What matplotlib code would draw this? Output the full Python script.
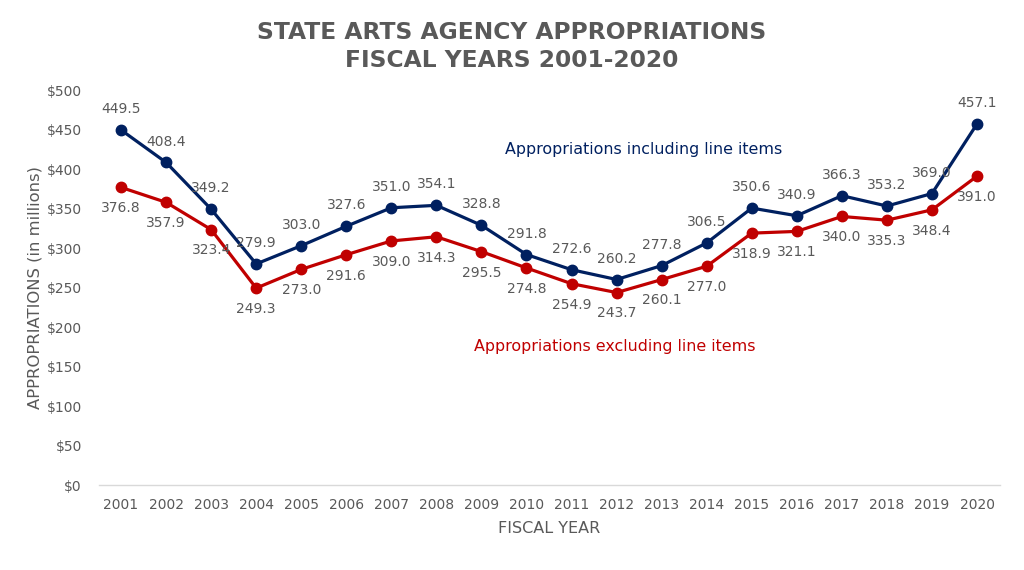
import matplotlib
matplotlib.use("Agg")
import matplotlib.pyplot as plt

years = [str(y) for y in range(2001, 2021)]
incl = [449.5, 408.4, 349.2, 279.9, 303.0, 327.6, 351.0, 354.1, 328.8, 291.8,
        272.6, 260.2, 277.8, 306.5, 350.6, 340.9, 366.3, 353.2, 369.0, 457.1]
excl = [376.8, 357.9, 323.4, 249.3, 273.0, 291.6, 309.0, 314.3, 295.5, 274.8,
        254.9, 243.7, 260.1, 277.0, 318.9, 321.1, 340.0, 335.3, 348.4, 391.0]
yticks = [0, 50, 100, 150, 200, 250, 300, 350, 400, 450, 500]

NAVY = "#002060"
RED = "#C00000"
GRAY = "#595959"

plt.rcParams['font.family'] = ['DejaVu Sans']

fig = plt.figure(figsize=(10.24, 5.70), dpi=100)
ax = fig.add_axes([0.0962, 0.149, 0.8799, 0.693])

x = list(range(len(years)))
ax.plot(x, incl, color=NAVY, lw=2.3, marker='o', ms=7.5, zorder=3)
ax.plot(x, excl, color=RED, lw=2.3, marker='o', ms=7.5, zorder=3)

for xi, v in zip(x, incl):
    ax.annotate(f"{v:.1f}", (xi, v), xytext=(0, 10), textcoords='offset points',
                ha='center', va='bottom', fontsize=10, color=GRAY)
for xi, v in zip(x, excl):
    ax.annotate(f"{v:.1f}", (xi, v), xytext=(0, -10), textcoords='offset points',
                ha='center', va='top', fontsize=10, color=GRAY)

ax.set_xlim(-0.5, len(years) - 0.5)
ax.set_ylim(0, 500)
ax.set_xticks(x)
ax.set_xticklabels(years)
ax.set_yticks(yticks)
ax.set_yticklabels([f"${t}" for t in yticks])
ax.tick_params(axis='both', length=0, labelsize=10, colors=GRAY)
ax.tick_params(axis='x', pad=9)
ax.tick_params(axis='y', pad=12)

for s in ['top', 'right', 'left']:
    ax.spines[s].set_visible(False)
ax.spines['bottom'].set_color('#D9D9D9')
ax.spines['bottom'].set_linewidth(1)

ax.set_xlabel("FISCAL YEAR", fontsize=11.5, color=GRAY, labelpad=7)
ax.set_ylabel("APPROPRIATIONS (in millions)", fontsize=11.8, color=GRAY, labelpad=3)

ax.text(11.6, 425, "Appropriations including line items", color=NAVY,
        fontsize=11.4, ha='center', va='center')
ax.text(10.97, 175, "Appropriations excluding line items", color=RED,
        fontsize=11.4, ha='center', va='center')

fig.text(0.5, 0.943, "STATE ARTS AGENCY APPROPRIATIONS", ha='center', va='center',
         fontsize=16.8, fontweight='bold', color=GRAY)
fig.text(0.5, 0.894, "FISCAL YEARS 2001-2020", ha='center', va='center',
         fontsize=16.8, fontweight='bold', color=GRAY)

fig.savefig("out.png", dpi=100)
